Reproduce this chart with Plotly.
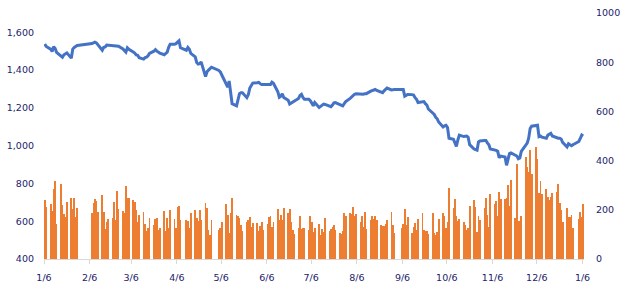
import pandas as pd
import plotly.graph_objects as go

# ---- data -------------------------------------------------------------
holidays = ['2022-01-31', '2022-02-01', '2022-02-02', '2022-02-03', '2022-02-04',
            '2022-04-11', '2022-05-02', '2022-05-03', '2022-09-01', '2022-09-02',
            '2023-01-02']

price = [
    # Jan
    1538, 1525, 1511, 1498, 1524, 1515, 1494, 1472, 1468, 1481, 1488, 1491, 1463, 1511, 1520, 1527, 1530,
    # Feb
    1540, 1545, 1548, 1544, 1535, 1505, 1520, 1522, 1532, 1531, 1530, 1530, 1528, 1524, 1526, 1512,
    # Mar
    1500, 1495, 1518, 1510, 1495, 1490, 1480, 1478, 1465, 1458, 1466, 1468, 1475, 1488, 1500, 1508, 1500,
    1495, 1490, 1481, 1488, 1495, 1520,
    # Apr
    1537, 1537, 1540, 1548, 1555, 1518, 1505, 1520, 1510, 1488, 1470, 1440, 1432, 1434, 1443, 1365, 1391,
    1400, 1410, 1415,
    # May
    1398, 1390, 1374, 1328, 1310, 1342, 1290, 1222, 1211, 1245, 1275, 1280, 1280, 1254, 1270, 1305, 1315,
    1331, 1333, 1335,
    # Jun
    1328, 1323, 1323, 1323, 1322, 1323, 1336, 1330, 1285, 1256, 1262, 1274, 1255, 1240, 1220, 1225, 1230,
    1235, 1250, 1265, 1271, 1255,
    # Jul
    1245, 1245, 1238, 1225, 1211, 1228, 1202, 1208, 1215, 1220, 1218, 1211, 1206, 1215, 1226, 1228, 1220,
    1215, 1211, 1222, 1233,
    # Aug
    1250, 1258, 1268, 1272, 1275, 1271, 1270, 1272, 1275, 1275, 1288, 1292, 1297, 1297, 1292, 1286, 1280,
    1290, 1300, 1305, 1295, 1297, 1297,
    # Sep
    1297, 1297, 1262, 1268, 1271, 1270, 1268, 1254, 1245, 1228, 1230, 1233, 1222, 1215, 1194, 1175, 1165,
    1150, 1142, 1125,
    # Oct
    1099, 1105, 1108, 1096, 1039, 1034, 1010, 996, 1030, 1056, 1048, 1050, 1051, 1044, 1005, 982, 979,
    976, 1020, 1025, 1027,
    # Nov
    1027, 1015, 1005, 982, 979, 975, 970, 936, 945, 940, 896, 930, 958, 962, 950, 945, 931, 935, 970,
    1000, 1013, 1039,
    # Dec
    1091, 1103, 1106, 1108, 1048, 1051, 1045, 1039, 1056, 1062, 1065, 1051, 1040, 1039, 1039, 1035, 1017,
    993, 1010, 1005, 1000, 1005,
    # Jan
    1022, 1039, 1056, 1051,
]

volume = [
    # Jan
    240, 210, 223, 194, 286, 317, 144, 305, 218, 183, 170, 230, 249, 202, 249, 170, 206,
    # Feb
    186, 226, 242, 236, 190, 261, 190, 123, 150, 162, 166, 230, 158, 277, 202, 194,
    # Mar
    186, 297, 246, 246, 238, 230, 198, 150, 178, 190, 143, 115, 127, 166, 139, 162, 166, 119, 127, 194,
    115, 166, 127,
    # Apr
    198, 162, 127, 210, 214, 158, 158, 154, 127, 186, 198, 166, 154, 198, 158, 226, 206, 119, 99, 158,
    # May
    119, 127, 150, 222, 178, 107, 186, 249, 178, 174, 166, 139, 115, 150, 158, 170, 131, 147, 147, 115,
    # Jun
    135, 150, 119, 143, 170, 174, 131, 150, 202, 158, 178, 158, 206, 186, 202, 150, 119, 103, 127, 174,
    123, 127,
    # Jul
    127, 119, 174, 150, 111, 127, 143, 99, 123, 111, 166, 115, 123, 131, 139, 119, 107, 103, 115, 186, 174,
    # Aug
    186, 182, 210, 174, 182, 150, 174, 131, 190, 123, 158, 174, 162, 174, 158, 139, 135, 135, 143, 158,
    190, 139, 107,
    # Sep
    127, 143, 202, 139, 170, 107, 131, 147, 119, 162, 186, 119, 115, 115, 103, 186, 107, 99, 111, 162,
    # Oct
    186, 174, 127, 150, 289, 206, 242, 174, 154, 162, 150, 139, 119, 127, 214, 238, 210, 111, 174, 158, 206,
    # Nov
    246, 178, 131, 265, 222, 234, 174, 273, 242, 242, 249, 301, 214, 321, 166, 388, 154, 154, 174, 416,
    376, 352,
    # Dec
    444, 345, 455, 408, 269, 317, 265, 285, 253, 238, 253, 269, 273, 305, 226, 198, 150, 206, 170, 170,
    178, 127,
    # Jan
    162, 190, 170, 222,
]

month_ticks = ['2022-01-06', '2022-02-06', '2022-03-06', '2022-04-06', '2022-05-06', '2022-06-06',
               '2022-07-06', '2022-08-06', '2022-09-06', '2022-10-06', '2022-11-06', '2022-12-06',
               '2023-01-06']
month_labels = ['1/6', '2/6', '3/6', '4/6', '5/6', '6/6', '7/6', '8/6', '9/6', '10/6', '11/6', '12/6', '1/6']

left_ticks = [400, 600, 800, 1000, 1200, 1400, 1600]
right_ticks = [0, 200, 400, 600, 800, 1000]

# ---- build ------------------------------------------------------------
dates = pd.bdate_range('2022-01-06', '2023-01-06')
dates = dates[~dates.isin(pd.to_datetime(holidays))]
n = min(len(dates), len(price), len(volume))
xs = (dates[:n] + pd.Timedelta(hours=12))

txt = '#22226a'
font = dict(family='DejaVu Sans, Verdana, sans-serif', size=9.5, color=txt)

fig = go.Figure()
fig.add_trace(go.Bar(x=xs, y=volume[:n], yaxis='y', marker=dict(color='#ED7D31', line=dict(width=0)),
                     width=0.55 * 86400000, showlegend=False))
fig.add_trace(go.Scatter(x=xs, y=price[:n], yaxis='y2', mode='lines',
                         line=dict(color='#4472C4', width=3), showlegend=False))

fig.update_layout(
    width=628, height=291,
    margin=dict(l=43, r=44, t=7, b=32, pad=0),
    paper_bgcolor='white', plot_bgcolor='white',
    font=font,
    bargap=0,
    xaxis=dict(type='date', range=['2022-01-06', '2023-01-07'],
               tickmode='array', tickvals=month_ticks, ticktext=month_labels,
               ticks='outside', ticklen=4, tickcolor='#D9D9D9', tickwidth=1,
               showline=True, linecolor='#D9D9D9', linewidth=1,
               showgrid=False, zeroline=False, tickfont=font, ticklabelstandoff=6),
    yaxis=dict(side='right', range=[0, 1000], tickmode='array', tickvals=right_ticks,
               ticktext=[str(v) for v in right_ticks],
               showgrid=False, zeroline=False, showline=False, ticks='',
               tickfont=font, ticklabelstandoff=11),
    yaxis2=dict(side='left', overlaying='y', range=[400, 1702], tickmode='array',
                tickvals=left_ticks, ticktext=[f'{v:,}' for v in left_ticks],
                showgrid=False, zeroline=False, showline=False, ticks='',
                tickfont=font, ticklabelstandoff=9),
)

fig.write_html('out.html')
